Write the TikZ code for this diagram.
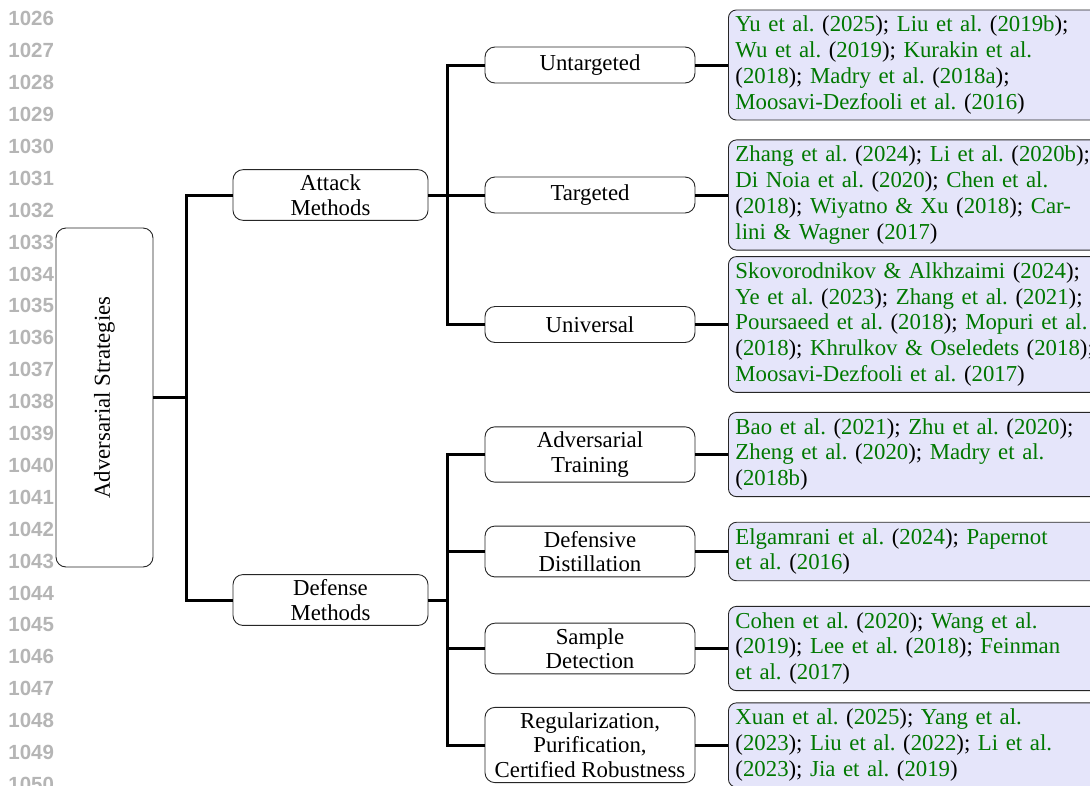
\documentclass[tikz,border=0pt]{standalone}
\usepackage{fontspec}
\setmainfont{Liberation Serif}
\newfontfamily\lnfont{Liberation Sans}
\definecolor{citegreen}{rgb}{0,0.47,0}
\definecolor{citefill}{rgb}{0.9,0.9,0.98}
\definecolor{lngray}{rgb}{0.71,0.71,0.71}
\newcommand{\gr}[1]{\textcolor{citegreen}{#1}}
\frenchspacing
\tikzset{
  catbox/.style={draw=black!85, line width=0.9pt, rounded corners=10pt, fill=white,
    align=center, inner xsep=4pt, inner ysep=5pt,
    font=\fontsize{22.8}{24.6}\selectfont},
  lvlone/.style={catbox, minimum width=195pt, minimum height=36pt},
  lvltwo/.style={catbox, minimum width=210pt, minimum height=36pt},
  citebox/.style={draw=black!85, line width=0.9pt, rounded corners=8pt, fill=citefill,
    align=left, text width=372pt, inner xsep=7pt, inner ysep=6pt, anchor=west,
    font=\fontsize{22.8}{25.8}\selectfont},
  conn/.style={line width=3pt, black},
  lnum/.style={anchor=base east, text=lngray, font=\lnfont\bfseries\fontsize{20.5}{20.5}\selectfont}
}
\begin{document}
\begin{tikzpicture}[x=1pt, y=-1pt]
\useasboundingbox (0,0) rectangle (1090,785);
% line numbers
\foreach \i in {0,...,24}{
  \pgfmathtruncatemacro{\num}{1026+\i}
  \node[lnum] (ln\i) at (57.5, 25.8+31.9*\i) {\num};
}
% root
\node[draw=black!85, line width=0.9pt, rounded corners=10pt, fill=white,
  minimum width=97pt, minimum height=339pt, inner sep=0pt,
  font=\fontsize{22.8}{24.6}\selectfont] (root) at (104.5,397.5)
  {\rotatebox{90}{Adversarial Strategies}};
% level one
\node[lvlone] (attack) at (330.5,195) {Attack\\Methods};
\node[lvlone] (defense) at (330.5,600) {Defense\\Methods};
% level two
\node[lvltwo] (untar) at (590,65) {Untargeted};
\node[lvltwo] (tar) at (590,195) {Targeted};
\node[lvltwo] (uni) at (590,324.5) {Universal};
\node[lvltwo] (advtr) at (590,454.5) {Adversarial\\Training};
\node[lvltwo] (distil) at (590,551.5) {Defensive\\Distillation};
\node[lvltwo] (detect) at (590,648.5) {Sample\\Detection};
\node[lvltwo] (regul) at (590,745) {Regularization,\\Purification,\\Certified Robustness};
% citations
\node[citebox] (c1) at (728,65) {\gr{Yu et al.} (\gr{2025}); \gr{Liu et al.} (\gr{2019b});\\
\gr{Wu et al.} (\gr{2019}); \gr{Kurakin et al.}\\
(\gr{2018}); \gr{Madry et al.} (\gr{2018a});\\
\gr{Moosavi-Dezfooli et al.} (\gr{2016})};
\node[citebox] (c2) at (728,195) {\gr{Zhang et al.} (\gr{2024}); \gr{Li et al.} (\gr{2020b});\\
\gr{Di Noia et al.} (\gr{2020}); \gr{Chen et al.}\\
(\gr{2018}); \gr{Wiyatno \& Xu} (\gr{2018}); \gr{Car-}\\
\gr{lini \& Wagner} (\gr{2017})};
\node[citebox] (c3) at (728,324.5) {\gr{Skovorodnikov \& Alkhzaimi} (\gr{2024});\\
\gr{Ye et al.} (\gr{2023}); \gr{Zhang et al.} (\gr{2021});\\
\gr{Poursaeed et al.} (\gr{2018}); \gr{Mopuri et al.}\\
(\gr{2018}); \gr{Khrulkov \& Oseledets} (\gr{2018});\\
\gr{Moosavi-Dezfooli et al.} (\gr{2017})};
\node[citebox] (c4) at (728,454.5) {\gr{Bao et al.} (\gr{2021}); \gr{Zhu et al.} (\gr{2020});\\
\gr{Zheng et al.} (\gr{2020}); \gr{Madry et al.}\\
(\gr{2018b})};
\node[citebox] (c5) at (728,551.5) {\gr{Elgamrani et al.} (\gr{2024}); \gr{Papernot}\\
\gr{et al.} (\gr{2016})};
\node[citebox] (c6) at (728,648.5) {\gr{Cohen et al.} (\gr{2020}); \gr{Wang et al.}\\
(\gr{2019}); \gr{Lee et al.} (\gr{2018}); \gr{Feinman}\\
\gr{et al.} (\gr{2017})};
\node[citebox] (c7) at (728,745) {\gr{Xuan et al.} (\gr{2025}); \gr{Yang et al.}\\
(\gr{2023}); \gr{Liu et al.} (\gr{2022}); \gr{Li et al.}\\
(\gr{2023}); \gr{Jia et al.} (\gr{2019})};
% junction coordinates
\coordinate (j0) at (186,397.5);
\coordinate (j1) at (447,195);
\coordinate (j2) at (447,600);
% connectors
\draw[conn] (root.east) -- (j0);
\draw[conn] (attack.west) -| (j0);
\draw[conn] (defense.west) -| (j0);
\draw[conn] (attack.east) -- (j1);
\draw[conn] (untar.west) -| (j1);
\draw[conn] (tar.west) -- (j1);
\draw[conn] (uni.west) -| (j1);
\draw[conn] (defense.east) -- (j2);
\draw[conn] (advtr.west) -| (j2);
\draw[conn] (distil.west) -| (j2);
\draw[conn] (detect.west) -| (j2);
\draw[conn] (regul.west) -| (j2);
\draw[conn] (untar.east) -- (c1.west);
\draw[conn] (tar.east) -- (c2.west);
\draw[conn] (uni.east) -- (c3.west);
\draw[conn] (advtr.east) -- (c4.west);
\draw[conn] (distil.east) -- (c5.west);
\draw[conn] (detect.east) -- (c6.west);
\draw[conn] (regul.east) -- (c7.west);
\end{tikzpicture}
\end{document}
